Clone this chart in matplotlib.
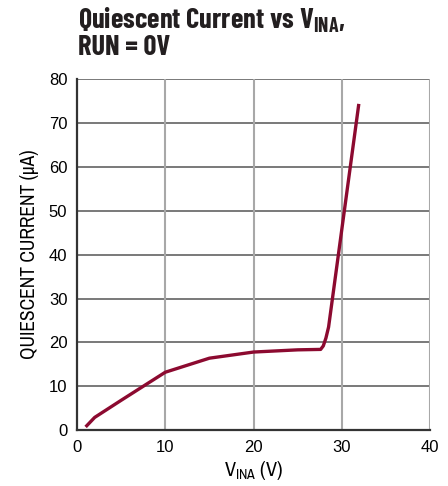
import matplotlib
matplotlib.use('Agg')
import matplotlib.pyplot as plt

# values
vina = [1.1, 2.0, 5.0, 10.0, 15.0, 20.0, 25.0, 27.6, 27.9, 28.2, 28.5, 31.9]
iq = [1.0, 2.9, 6.8, 13.2, 16.4, 17.8, 18.3, 18.4, 19.2, 21.0, 23.5, 74.0]

xticks = [0, 10, 20, 30, 40]
yticks = [0, 10, 20, 30, 40, 50, 60, 70, 80]

narrow = ['Archivo Narrow', 'Barlow Semi Condensed', 'DejaVu Sans']
title_font = ['Barlow Condensed', 'Archivo Narrow', 'DejaVu Sans']

fig = plt.figure(figsize=(4.48, 4.86), dpi=100)
ax = fig.add_axes([0.172, 0.115, 0.788, 0.722])

ax.plot(vina, iq, color='#8c0a30', lw=2.4, solid_joinstyle='round', zorder=3)

ax.set_xlim(0, 40)
ax.set_ylim(0, 80)
ax.set_xticks(xticks)
ax.set_yticks(yticks)
ax.tick_params(length=0, labelsize=12, pad=7)
for lab in ax.get_xticklabels() + ax.get_yticklabels():
    lab.set_family('Liberation Sans')

# horizontal grid darker than vertical
for y in yticks[1:]:
    ax.axhline(y, color='#555555', lw=1.1, zorder=1)
for x in xticks[1:]:
    ax.axvline(x, color='#a8a8a8', lw=1.5, zorder=1)

for s in ['top', 'right']:
    ax.spines[s].set_visible(False)
for s in ['left', 'bottom']:
    ax.spines[s].set_color('#333333')
    ax.spines[s].set_linewidth(1.6)

ax.set_xlabel(r'V$_{\mathregular{INA}}$ (V)', family=narrow, fontsize=14.5, labelpad=3)
ax.set_ylabel('QUIESCENT CURRENT (µA)', family=narrow, fontsize=14, labelpad=7)

fig.text(0.174, 0.990, r'Quiescent Current vs V$_{\mathregular{INA}}$,' + '\nRUN = 0V',
         family=title_font, fontweight='bold', fontsize=20.5,
         color='#231f20', ha='left', va='top', linespacing=1.0)

fig.savefig('out.png', dpi=100)
